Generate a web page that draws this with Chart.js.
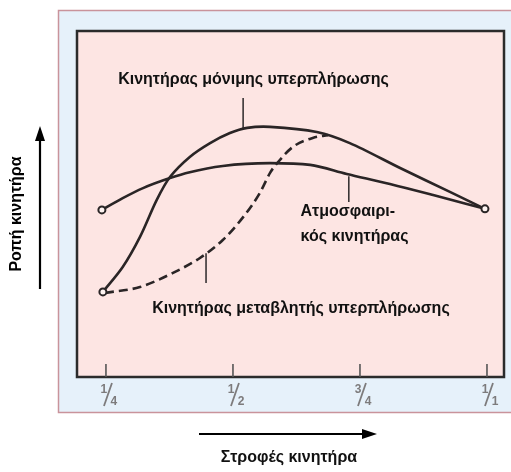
<!DOCTYPE html>
<html>
<head>
<meta charset="utf-8">
<script src="https://cdn.jsdelivr.net/npm/chart.js@4.4.1/dist/chart.umd.min.js"></script>
<style>
html, body { margin: 0; padding: 0; background: #fff; }
#wrap { width: 511px; height: 472px; position: relative; }
</style>
</head>
<body>
<div id="wrap"><canvas id="c" width="511" height="472"></canvas></div>
<script>
// engine speed (fraction of max) vs torque (relative units, no scale shown)
const xTicks = [0.25, 0.5, 0.75, 1]
const xTickNum = ['1', '1', '3', '1']
const xTickDen = ['4', '2', '4', '1']

const atmoX = [0.242, 0.283, 0.323, 0.376, 0.415, 0.480, 0.573, 0.652, 0.724, 0.809, 0.894, 0.996]
const atmoY = [48.3, 51.7, 54.6, 57.5, 59.2, 61.0, 61.8, 61.3, 58.7, 55.8, 52.6, 48.6]

const constX = [0.244, 0.283, 0.317, 0.350, 0.376, 0.415, 0.455, 0.494, 0.528, 0.573, 0.665, 0.730, 0.829, 0.927, 0.996]
const constY = [24.6, 31.8, 40.5, 51.2, 57.8, 63.6, 67.6, 70.5, 72.0, 72.3, 70.8, 67.6, 60.4, 53.5, 48.6]

const varX = [0.248, 0.317, 0.382, 0.435, 0.480, 0.520, 0.553, 0.573, 0.587, 0.618, 0.657, 0.687]
const varY = [24.3, 26.0, 30.1, 34.4, 39.6, 46.2, 53.2, 59.0, 61.8, 66.5, 69.1, 69.9]

// little leader lines from the labels to the curves
const leaders = [
    {x: 0.520, y1: 80.6, y2: 71.9},
    {x: 0.728, y1: 58.0, y2: 50.6},
    {x: 0.447, y1: 35.8, y2: 27.2}
]

const labels = [
    {text: 'Κινητήρας μόνιμης υπερπλήρωσης', x: 0.274, y: 86.1},
    {text: 'Ατμοσφαιρι-', x: 0.633, y: 47.7},
    {text: 'κός κινητήρας', x: 0.633, y: 40.5},
    {text: 'Κινητήρας μεταβλητής υπερπλήρωσης', x: 0.341, y: 19.9}
]

const ink = '#2a2526'

function pts(xs, ys){
    return xs.map((x, i) => ({x: x, y: ys[i]}))
}

const datasets = [
    {data: pts(atmoX, atmoY), borderColor: ink, borderWidth: 2.6, cubicInterpolationMode: 'monotone',
        pointRadius: ctx => (ctx.dataIndex == 0 || ctx.dataIndex == atmoX.length - 1) ? 3.5 : 0},
    {data: pts(constX, constY), borderColor: ink, borderWidth: 2.6, tension: 0.3,
        pointRadius: ctx => ctx.dataIndex == 0 ? 3.5 : 0},
    {data: pts(varX, varY), borderColor: ink, borderWidth: 2.6, borderDash: [9, 5], cubicInterpolationMode: 'monotone',
        pointRadius: 0}
]
for (let l of leaders){
    datasets.push({data: [{x: l.x, y: l.y1}, {x: l.x, y: l.y2}], borderColor: '#3a3536', borderWidth: 1.6, pointRadius: 0})
}
for (let d of datasets){
    d.pointBackgroundColor = '#fdf3f1'
    d.pointBorderColor = ink
    d.pointBorderWidth = 2
}

function arrow(ctx, x1, y1, x2, y2){
    const a = Math.atan2(y2 - y1, x2 - x1)
    const hl = 15, hw = 5
    ctx.strokeStyle = '#000'
    ctx.fillStyle = '#000'
    ctx.lineWidth = 2.2
    ctx.beginPath()
    ctx.moveTo(x1, y1)
    ctx.lineTo(x2 - hl * Math.cos(a), y2 - hl * Math.sin(a))
    ctx.stroke()
    ctx.beginPath()
    ctx.moveTo(x2, y2)
    ctx.lineTo(x2 - hl * Math.cos(a) - hw * Math.sin(a), y2 - hl * Math.sin(a) + hw * Math.cos(a))
    ctx.lineTo(x2 - hl * Math.cos(a) + hw * Math.sin(a), y2 - hl * Math.sin(a) - hw * Math.cos(a))
    ctx.closePath()
    ctx.fill()
}

const frame = {
    id: 'frame',
    beforeDraw(chart){
        const ctx = chart.ctx
        const a = chart.chartArea
        ctx.save()
        ctx.fillStyle = '#fff'
        ctx.fillRect(0, 0, chart.width, chart.height)
        ctx.fillStyle = '#e6f1fa'
        ctx.fillRect(58.5, 10.5, 460, 402)
        ctx.strokeStyle = '#c9939b'
        ctx.lineWidth = 1.5
        ctx.strokeRect(58.5, 10.5, 460, 402)
        ctx.fillStyle = '#fde5e3'
        ctx.fillRect(a.left, a.top, a.right - a.left, a.bottom - a.top)
        ctx.restore()
    },
    afterDraw(chart){
        const ctx = chart.ctx
        const a = chart.chartArea
        const xs = chart.scales.x, ys = chart.scales.y
        ctx.save()
        ctx.strokeStyle = '#2b2b2b'
        ctx.lineWidth = 2.5
        ctx.strokeRect(a.left, a.top, a.right - a.left, a.bottom - a.top)

        // tick marks inside the frame + fraction labels
        xTicks.forEach((v, i) => {
            const px = xs.getPixelForValue(v)
            ctx.strokeStyle = '#555'
            ctx.lineWidth = 1.6
            ctx.beginPath()
            ctx.moveTo(px, a.bottom - 13)
            ctx.lineTo(px, a.bottom)
            ctx.stroke()
            ctx.fillStyle = '#7d7b7c'
            ctx.textAlign = 'center'
            ctx.textBaseline = 'alphabetic'
            ctx.font = 'bold 12px "Liberation Sans", Arial, sans-serif'
            ctx.fillText(xTickNum[i], px - 2, a.bottom + 16)
            ctx.fillText(xTickDen[i], px + 8, a.bottom + 28)
            ctx.lineWidth = 1.8
            ctx.strokeStyle = '#7d7b7c'
            ctx.beginPath()
            ctx.moveTo(px - 2, a.bottom + 29)
            ctx.lineTo(px + 6, a.bottom + 6)
            ctx.stroke()
        })

        ctx.fillStyle = '#111'
        ctx.font = 'bold 16px "Liberation Sans", Arial, sans-serif'
        ctx.textAlign = 'left'
        ctx.textBaseline = 'middle'
        for (let l of labels){
            ctx.fillText(l.text, xs.getPixelForValue(l.x), ys.getPixelForValue(l.y))
        }

        // axis titles with arrows
        ctx.textAlign = 'center'
        ctx.fillText('Στροφές κινητήρα', 289, 458)
        arrow(ctx, 199, 434, 377, 434)
        arrow(ctx, 40, 289, 40, 126)
        ctx.translate(17, 214)
        ctx.rotate(-Math.PI / 2)
        ctx.fillText('Ροπή κινητήρα', 0, 0)
        ctx.restore()
    }
}

new Chart(document.getElementById('c'), {
    type: 'scatter',
    data: {datasets: datasets},
    options: {
        responsive: false,
        animation: false,
        showLine: true,
        layout: {padding: {left: 77, right: 7, top: 31, bottom: 95}},
        scales: {
            x: {type: 'linear', display: false, min: 0.193, max: 1.0335},
            y: {type: 'linear', display: false, min: 0, max: 100}
        },
        plugins: {
            legend: {display: false},
            tooltip: {enabled: false}
        }
    },
    plugins: [frame]
})
</script>
</body>
</html>
